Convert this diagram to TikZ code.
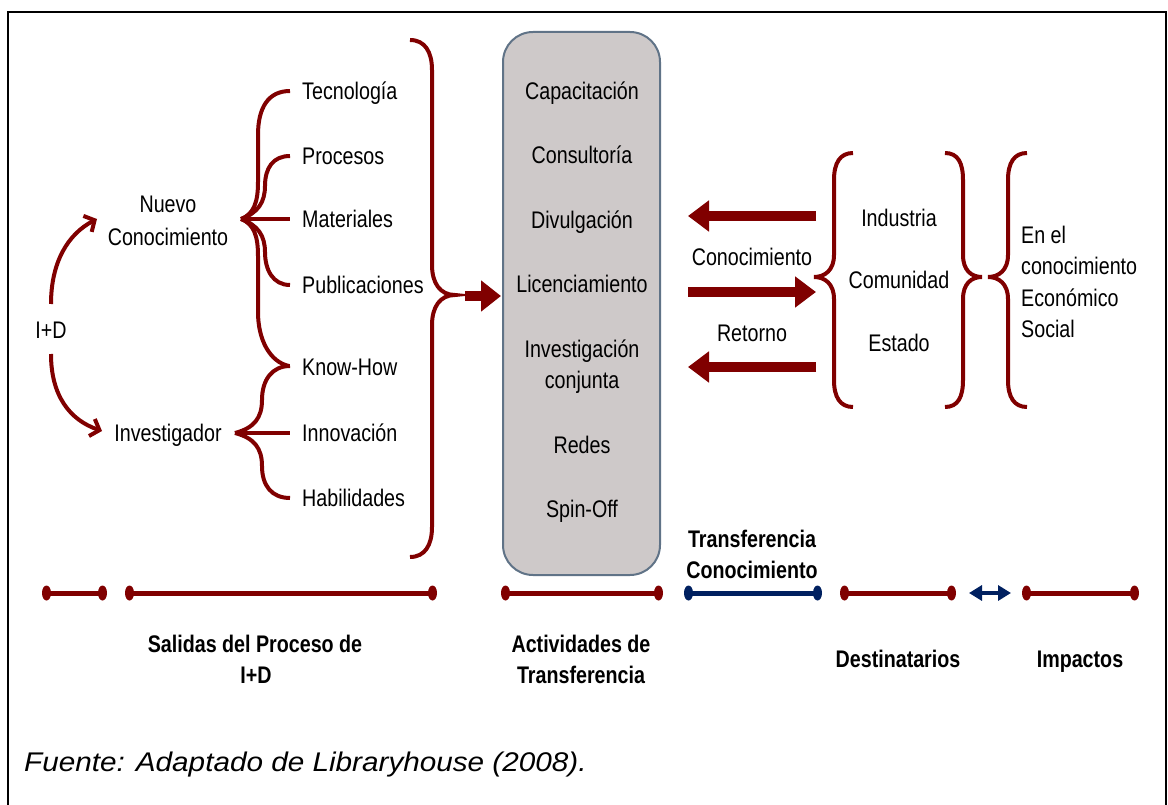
\documentclass[tikz,border=0pt]{standalone}
\usepackage{fontspec}
\setmainfont[FakeStretch=0.82]{Liberation Sans}
\newfontfamily\footfont[FakeStretch=1.1]{Liberation Sans}
\usetikzlibrary{arrows.meta}
\definecolor{dred}{RGB}{128,0,0}
\definecolor{dblue}{RGB}{0,32,96}
\definecolor{boxfill}{RGB}{206,201,201}
\definecolor{boxedge}{RGB}{96,115,135}
\begin{document}
\begin{tikzpicture}[x=1pt,y=-1pt,
  txt/.style={inner sep=0pt,font=\fontsize{24}{29}\selectfont},
  lbl/.style={txt,anchor=base},
  lblw/.style={txt,anchor=base west},
  bld/.style={inner sep=0pt,anchor=base,font=\fontsize{24}{29}\selectfont\bfseries},
  brace/.style={draw=dred,line width=4pt},
  curvarrow/.style={draw=dred,line width=4pt,-{Straight Barb[length=8pt,width=18pt]}},
  blockarrow/.style={draw=dred,line width=10pt,-{Triangle[length=21pt,width=30pt]}},
]
\useasboundingbox (0,0) rectangle (1168,805);
% frame
\draw[line width=2pt] (8,830) -- (8,12) -- (1166,12) -- (1166,830);

% ---- left part
\node[lbl] (id) at (51,338.5) {I+D};
\node[lbl] (nuevo1) at (168,212.5) {Nuevo};
\node[lbl] (nuevo2) at (168,245.5) {Conocimiento};
\node[lbl] (inv) at (168,441.5) {Investigador};
\coordinate (idt) at (51,304);
\coordinate (idb) at (51,354);
\coordinate (nt) at (97,219);
\coordinate (it) at (102,431);
\draw[curvarrow] (idt) .. controls (51,262) and (68,234) .. (nt);
\draw[curvarrow] (idb) .. controls (51,396) and (70,420) .. (it);

\node[lblw] (tec) at (302,99.5) {Tecnología};
\node[lblw] (pro) at (302,164.5) {Procesos};
\node[lblw] (mat) at (302,228) {Materiales};
\node[lblw] (pub) at (302,294) {Publicaciones};
\node[lblw] (kh) at (302,375.5) {Know-How};
\node[lblw] (inn) at (302,441.5) {Innovación};
\node[lblw] (hab) at (302,506.5) {Habilidades};

% Nuevo Conocimiento brace
\coordinate (nb) at (241,219);
\draw[brace] (nb) .. controls (254,214) and (258,202) .. (258,182) -- (258,135) .. controls (258,108) and (268,91) .. (290,91);
\draw[brace] (nb) .. controls (258,213) and (265,202) .. (265,186) .. controls (265,168) and (273,156) .. (290,156);
\draw[brace] (nb) -- (290,219);
\draw[brace] (nb) .. controls (258,225) and (265,236) .. (265,252) .. controls (265,270) and (273,285) .. (290,285);
\draw[brace] (nb) .. controls (254,224) and (258,236) .. (258,256) -- (258,312) .. controls (258,340) and (270,362) .. (289,366);
% Investigador brace
\coordinate (ib) at (235,433);
\draw[brace] (ib) .. controls (254,428) and (262,418) .. (262,400) .. controls (262,380) and (272,366) .. (290,366);
\draw[brace] (ib) -- (290,433);
\draw[brace] (ib) .. controls (254,438) and (262,448) .. (262,466) .. controls (262,486) and (272,498) .. (290,498);

% big brace
\draw[brace] (410,40) .. controls (425,40) and (432,52) .. (432,70) -- (432,265)
  .. controls (432,283) and (440,295) .. (455,295)
  .. controls (440,295) and (432,307) .. (432,325) -- (432,527)
  .. controls (432,545) and (425,557) .. (410,557);
\coordinate (sa0) at (465,296);
\coordinate (sb0) at (501,296);
\draw[draw=dred,line width=10pt,-{Triangle[length=20pt,width=30pt]}] (sa0) -- (sb0);

% ---- box
\node[draw=boxedge,fill=boxfill,line width=2pt,rounded corners=30pt,
  minimum width=157pt,minimum height=543pt,inner sep=0pt] (box) at (581.5,303.5) {};
\node[lbl] (b1) at (582,99.5) {Capacitación};
\node[lbl] (b2) at (582,164) {Consultoría};
\node[lbl] (b3) at (582,228.5) {Divulgación};
\node[lbl] (b4) at (582,293) {Licenciamiento};
\node[lbl] (b5) at (582,357) {Investigación};
\node[lbl] (b6) at (582,388) {conjunta};
\node[lbl] (b7) at (582,453.5) {Redes};
\node[lbl] (b8) at (582,517) {Spin-Off};

% ---- arrows right
\coordinate (a1s) at (816,216); \coordinate (a1e) at (688,216);
\coordinate (a2s) at (688,292); \coordinate (a2e) at (816,292);
\coordinate (a3s) at (816,367); \coordinate (a3e) at (688,367);
\draw[blockarrow] (a1s) -- (a1e);
\draw[blockarrow] (a2s) -- (a2e);
\draw[blockarrow] (a3s) -- (a3e);
\node[lbl] (conoc) at (752,265.5) {Conocimiento};
\node[lbl] (ret) at (752,341.5) {Retorno};
\node[bld] (tc1) at (752,547) {Transferencia};
\node[bld] (tc2) at (752,578.5) {Conocimiento};

% ---- right braces
\draw[brace] (853,153) .. controls (840,153) and (834,163) .. (834,180) -- (834,255)
  .. controls (834,270) and (825,277) .. (814,277)
  .. controls (825,277) and (834,284) .. (834,299) -- (834,380)
  .. controls (834,397) and (840,407) .. (853,407);
\draw[brace] (945,153) .. controls (958,153) and (963,163) .. (963,180) -- (963,255)
  .. controls (963,270) and (971,277) .. (982,277)
  .. controls (971,277) and (963,284) .. (963,299) -- (963,380)
  .. controls (963,397) and (958,407) .. (945,407);
\draw[brace] (1027,153) .. controls (1014,153) and (1008,163) .. (1008,180) -- (1008,255)
  .. controls (1008,270) and (999,277) .. (988,277)
  .. controls (999,277) and (1008,284) .. (1008,299) -- (1008,380)
  .. controls (1008,397) and (1014,407) .. (1027,407);
\node[lbl] (ind) at (899,226.5) {Industria};
\node[lbl] (com) at (899,288.5) {Comunidad};
\node[lbl] (est) at (899,351.5) {Estado};
\node[lblw] (e1) at (1021,243.5) {En el};
\node[lblw] (e2) at (1021,275) {conocimiento};
\node[lblw] (e3) at (1021,306.5) {Económico};
\node[lblw] (e4) at (1021,337.5) {Social};

% ---- bottom segments
\foreach \a/\b/\c [count=\i] in {42/107/dred,125/437/dred,501/663/dred,684/822/dblue,840/956/dred,1022/1139/dred}{
  \coordinate (sa\i) at (\a+4.5,593);
  \coordinate (sb\i) at (\b-4.5,593);
  \draw[draw=\c,line width=5pt] (sa\i) -- (sb\i);
  \fill[\c] (sa\i) ellipse [x radius=4.5pt,y radius=7.5pt];
  \fill[\c] (sb\i) ellipse [x radius=4.5pt,y radius=7.5pt];
}
\coordinate (da) at (969,593);
\coordinate (db) at (1011,593);
\draw[draw=dblue,line width=4pt,{Triangle[length=13pt,width=15pt]}-{Triangle[length=13pt,width=15pt]}] (da) -- (db);

\node[bld] (l1a) at (255,652) {Salidas del Proceso de};
\node[bld] (l1b) at (256,683) {I+D};
\node[bld] (l2a) at (581,652) {Actividades de};
\node[bld] (l2b) at (581,683) {Transferencia};
\node[bld] (l3) at (898,667) {Destinatarios};
\node[bld] (l4) at (1080,667) {Impactos};

\node[anchor=base west,inner sep=0pt,font=\footfont\itshape\fontsize{27}{31}\selectfont] (src) at (24,771) {Fuente: Adaptado de Libraryhouse (2008).};
\end{tikzpicture}
\end{document}
